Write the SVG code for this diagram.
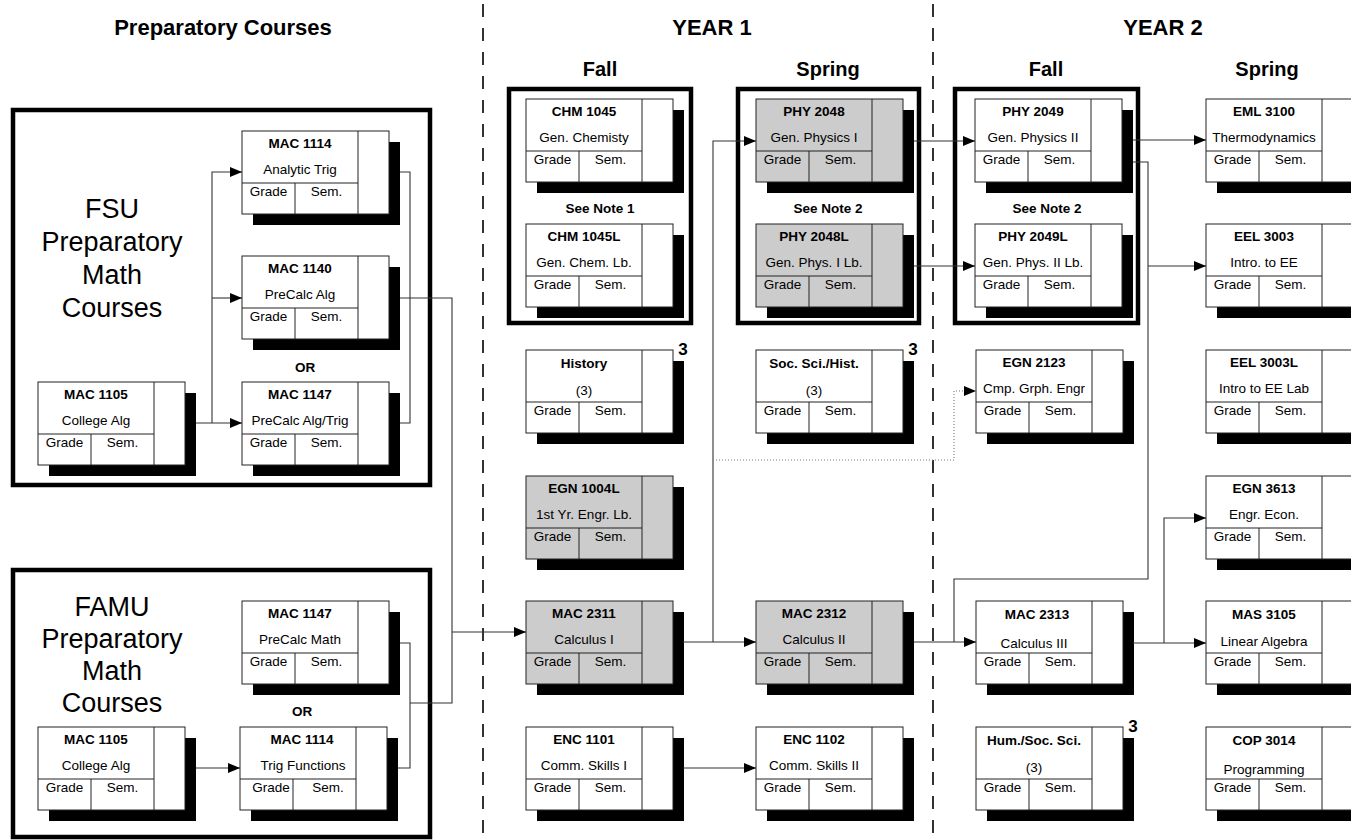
<svg xmlns="http://www.w3.org/2000/svg" width="1351" height="840" viewBox="0 0 1351 840">
<style>
text{font-family:"Liberation Sans",Arial,sans-serif;fill:#000;text-anchor:middle}
.h1{font-size:22px;font-weight:bold}
.h2{font-size:20px;font-weight:bold}
.big{font-size:27px}
.code{font-size:13.5px;font-weight:bold}
.nm{font-size:13.5px}
.gs{font-size:13.5px}
.note{font-size:13.5px;font-weight:bold}
.three{font-size:17px;font-weight:bold}
.sh{fill:#000}
.bx{stroke:#222;stroke-width:1}
.fw{fill:#fff}
.fg{fill:#cccccc}
.ln{stroke:#222;stroke-width:1;fill:none}
.grp{fill:none;stroke:#000;stroke-width:4.5}
.dash{stroke:#000;stroke-width:1.6;stroke-dasharray:13,11;fill:none}
.cn{fill:none;stroke:#333;stroke-width:1.1}
.dot{fill:none;stroke:#777;stroke-width:1.1;stroke-dasharray:1,2}
</style>
<defs>
<marker id="ah" markerWidth="12" markerHeight="10" refX="12" refY="5" orient="auto" markerUnits="userSpaceOnUse"><path d="M0,0 L12,5 L0,10 z" fill="#000"/></marker>
<g id="frame">
<rect class="sh" x="11" y="11" width="147" height="83"/>
<rect class="bx" x="0" y="0" width="147" height="83"/>
<path class="ln" d="M116,0 V83 M0,52 H116 M53,52 V83"/>
</g>
</defs>
<rect width="1351" height="840" fill="#fff"/>

<g id="headers">
<text class="h1" x="223" y="35">Preparatory Courses</text>
<text class="h1" x="712" y="35">YEAR 1</text>
<text class="h1" x="1163" y="35">YEAR 2</text>
<text class="h2" x="600" y="76">Fall</text>
<text class="h2" x="828" y="76">Spring</text>
<text class="h2" x="1046" y="76">Fall</text>
<text class="h2" x="1267" y="76">Spring</text>
</g>

<g id="dividers">
<line class="dash" x1="483" y1="4" x2="483" y2="840"/>
<line class="dash" x1="933" y1="4" x2="933" y2="840"/>
</g>

<g id="group-fsu">
<rect class="grp" x="13" y="110" width="417" height="375"/>
<text class="big" x="112" y="218">FSU</text>
<text class="big" x="112" y="251">Preparatory</text>
<text class="big" x="112" y="284">Math</text>
<text class="big" x="112" y="317">Courses</text>
<text class="note" x="305" y="372">OR</text>
</g>
<g id="group-famu">
<rect class="grp" x="13" y="570" width="417" height="267"/>
<text class="big" x="112" y="616">FAMU</text>
<text class="big" x="112" y="648">Preparatory</text>
<text class="big" x="112" y="680">Math</text>
<text class="big" x="112" y="712">Courses</text>
<text class="note" x="302" y="716">OR</text>
</g>
<g id="group-y1-fall">
<rect class="grp" x="509" y="89" width="182" height="234"/>
<text class="note" x="600" y="213">See Note 1</text>
</g>
<g id="group-y1-spring">
<rect class="grp" x="738" y="89" width="181" height="234"/>
<text class="note" x="828" y="213">See Note 2</text>
</g>
<g id="group-y2-fall">
<rect class="grp" x="955" y="89" width="183" height="234"/>
<text class="note" x="1047" y="213">See Note 2</text>
</g>

<!-- Nodes -->
<g id="fsu-mac1114" transform="translate(242,131)"><use href="#frame" class="fw"/><text class="code" x="58" y="17">MAC 1114</text><text class="nm" x="58" y="43">Analytic Trig</text><text class="gs" x="26.5" y="65">Grade</text><text class="gs" x="84.5" y="65">Sem.</text></g>
<g id="fsu-mac1140" transform="translate(242,256)"><use href="#frame" class="fw"/><text class="code" x="58" y="17">MAC 1140</text><text class="nm" x="58" y="43">PreCalc Alg</text><text class="gs" x="26.5" y="65">Grade</text><text class="gs" x="84.5" y="65">Sem.</text></g>
<g id="fsu-mac1147" transform="translate(242,382)"><use href="#frame" class="fw"/><text class="code" x="58" y="17">MAC 1147</text><text class="nm" x="58" y="43">PreCalc Alg/Trig</text><text class="gs" x="26.5" y="65">Grade</text><text class="gs" x="84.5" y="65">Sem.</text></g>
<g id="fsu-mac1105" transform="translate(38,382)"><use href="#frame" class="fw"/><text class="code" x="58" y="17">MAC 1105</text><text class="nm" x="58" y="43">College Alg</text><text class="gs" x="26.5" y="65">Grade</text><text class="gs" x="84.5" y="65">Sem.</text></g>
<g id="famu-mac1147" transform="translate(242,601)"><use href="#frame" class="fw"/><text class="code" x="58" y="17">MAC 1147</text><text class="nm" x="58" y="43">PreCalc Math</text><text class="gs" x="26.5" y="65">Grade</text><text class="gs" x="84.5" y="65">Sem.</text></g>
<g id="famu-mac1114" transform="translate(240,727)"><use href="#frame" class="fw"/><text class="code" x="62" y="17">MAC 1114</text><text class="nm" x="63" y="43">Trig Functions</text><text class="gs" x="31" y="65">Grade</text><text class="gs" x="88" y="65">Sem.</text></g>
<g id="famu-mac1105" transform="translate(38,727)"><use href="#frame" class="fw"/><text class="code" x="58" y="17">MAC 1105</text><text class="nm" x="58" y="43">College Alg</text><text class="gs" x="26.5" y="65">Grade</text><text class="gs" x="84.5" y="65">Sem.</text></g>

<g id="chm1045" transform="translate(526,99)"><use href="#frame" class="fw"/><text class="code" x="58" y="17">CHM 1045</text><text class="nm" x="58" y="43">Gen. Chemisty</text><text class="gs" x="26.5" y="65">Grade</text><text class="gs" x="84.5" y="65">Sem.</text></g>
<g id="chm1045l" transform="translate(526,224)"><use href="#frame" class="fw"/><text class="code" x="58" y="17">CHM 1045L</text><text class="nm" x="58" y="43">Gen. Chem. Lb.</text><text class="gs" x="26.5" y="65">Grade</text><text class="gs" x="84.5" y="65">Sem.</text></g>
<g id="history" transform="translate(526,350)"><use href="#frame" class="fw"/><text class="code" x="58" y="18">History</text><text class="nm" x="58" y="45">(3)</text><text class="gs" x="26.5" y="65">Grade</text><text class="gs" x="84.5" y="65">Sem.</text><text class="three" x="157" y="5">3</text></g>
<g id="egn1004l" transform="translate(526,476)"><use href="#frame" class="fg"/><text class="code" x="58" y="17">EGN 1004L</text><text class="nm" x="58" y="43">1st Yr. Engr. Lb.</text><text class="gs" x="26.5" y="65">Grade</text><text class="gs" x="84.5" y="65">Sem.</text></g>
<g id="mac2311" transform="translate(526,601)"><use href="#frame" class="fg"/><text class="code" x="58" y="17">MAC 2311</text><text class="nm" x="58" y="43">Calculus I</text><text class="gs" x="26.5" y="65">Grade</text><text class="gs" x="84.5" y="65">Sem.</text></g>
<g id="enc1101" transform="translate(526,727)"><use href="#frame" class="fw"/><text class="code" x="58" y="17">ENC 1101</text><text class="nm" x="58" y="43">Comm. Skills I</text><text class="gs" x="26.5" y="65">Grade</text><text class="gs" x="84.5" y="65">Sem.</text></g>

<g id="phy2048" transform="translate(756,99)"><use href="#frame" class="fg"/><text class="code" x="58" y="17">PHY 2048</text><text class="nm" x="58" y="43">Gen. Physics I</text><text class="gs" x="26.5" y="65">Grade</text><text class="gs" x="84.5" y="65">Sem.</text></g>
<g id="phy2048l" transform="translate(756,224)"><use href="#frame" class="fg"/><text class="code" x="58" y="17">PHY 2048L</text><text class="nm" x="58" y="43">Gen. Phys. I Lb.</text><text class="gs" x="26.5" y="65">Grade</text><text class="gs" x="84.5" y="65">Sem.</text></g>
<g id="socsci-hist" transform="translate(756,350)"><use href="#frame" class="fw"/><text class="code" x="58" y="18">Soc. Sci./Hist.</text><text class="nm" x="58" y="45">(3)</text><text class="gs" x="26.5" y="65">Grade</text><text class="gs" x="84.5" y="65">Sem.</text><text class="three" x="157" y="5">3</text></g>
<g id="mac2312" transform="translate(756,601)"><use href="#frame" class="fg"/><text class="code" x="58" y="17">MAC 2312</text><text class="nm" x="58" y="43">Calculus II</text><text class="gs" x="26.5" y="65">Grade</text><text class="gs" x="84.5" y="65">Sem.</text></g>
<g id="enc1102" transform="translate(756,727)"><use href="#frame" class="fw"/><text class="code" x="58" y="17">ENC 1102</text><text class="nm" x="58" y="43">Comm. Skills II</text><text class="gs" x="26.5" y="65">Grade</text><text class="gs" x="84.5" y="65">Sem.</text></g>

<g id="phy2049" transform="translate(975,99)"><use href="#frame" class="fw"/><text class="code" x="58" y="17">PHY 2049</text><text class="nm" x="58" y="43">Gen. Physics II</text><text class="gs" x="26.5" y="65">Grade</text><text class="gs" x="84.5" y="65">Sem.</text></g>
<g id="phy2049l" transform="translate(975,224)"><use href="#frame" class="fw"/><text class="code" x="58" y="17">PHY 2049L</text><text class="nm" x="58" y="43">Gen. Phys. II Lb.</text><text class="gs" x="26.5" y="65">Grade</text><text class="gs" x="84.5" y="65">Sem.</text></g>
<g id="egn2123" transform="translate(976,350)"><use href="#frame" class="fw"/><text class="code" x="58" y="17">EGN 2123</text><text class="nm" x="58" y="43">Cmp. Grph. Engr</text><text class="gs" x="26.5" y="65">Grade</text><text class="gs" x="84.5" y="65">Sem.</text></g>
<g id="mac2313" transform="translate(976,601)"><use href="#frame" class="fw"/><text class="code" x="61" y="18">MAC 2313</text><text class="nm" x="58" y="47">Calculus III</text><text class="gs" x="26.5" y="65">Grade</text><text class="gs" x="84.5" y="65">Sem.</text></g>
<g id="hum-socsci" transform="translate(976,727)"><use href="#frame" class="fw"/><text class="code" x="58" y="18">Hum./Soc. Sci.</text><text class="nm" x="58" y="45">(3)</text><text class="gs" x="26.5" y="65">Grade</text><text class="gs" x="84.5" y="65">Sem.</text><text class="three" x="157" y="5">3</text></g>

<g id="eml3100" transform="translate(1206,99)"><use href="#frame" class="fw"/><text class="code" x="58" y="17">EML 3100</text><text class="nm" x="58" y="43">Thermodynamics</text><text class="gs" x="26.5" y="65">Grade</text><text class="gs" x="84.5" y="65">Sem.</text></g>
<g id="eel3003" transform="translate(1206,224)"><use href="#frame" class="fw"/><text class="code" x="58" y="17">EEL 3003</text><text class="nm" x="58" y="43">Intro. to EE</text><text class="gs" x="26.5" y="65">Grade</text><text class="gs" x="84.5" y="65">Sem.</text></g>
<g id="eel3003l" transform="translate(1206,350)"><use href="#frame" class="fw"/><text class="code" x="58" y="17">EEL 3003L</text><text class="nm" x="58" y="43">Intro to EE Lab</text><text class="gs" x="26.5" y="65">Grade</text><text class="gs" x="84.5" y="65">Sem.</text></g>
<g id="egn3613" transform="translate(1206,476)"><use href="#frame" class="fw"/><text class="code" x="58" y="17">EGN 3613</text><text class="nm" x="58" y="43">Engr. Econ.</text><text class="gs" x="26.5" y="65">Grade</text><text class="gs" x="84.5" y="65">Sem.</text></g>
<g id="mas3105" transform="translate(1206,601)"><use href="#frame" class="fw"/><text class="code" x="58" y="18">MAS 3105</text><text class="nm" x="58" y="45">Linear Algebra</text><text class="gs" x="26.5" y="65">Grade</text><text class="gs" x="84.5" y="65">Sem.</text></g>
<g id="cop3014" transform="translate(1206,727)"><use href="#frame" class="fw"/><text class="code" x="58" y="18">COP 3014</text><text class="nm" x="58" y="47">Programming</text><text class="gs" x="26.5" y="65">Grade</text><text class="gs" x="84.5" y="65">Sem.</text></g>

<g id="connectors">
<path class="cn" d="M196,423 H242" marker-end="url(#ah)"/>
<path class="cn" d="M212,423 V172 H242" marker-end="url(#ah)"/>
<path class="cn" d="M212,298 H242" marker-end="url(#ah)"/>
<path class="cn" d="M400,172 H410 V423 H400"/>
<path class="cn" d="M400,298 H452 V703 H410"/>
<path class="cn" d="M452,632 H526" marker-end="url(#ah)"/>
<path class="cn" d="M196,768 H240" marker-end="url(#ah)"/>
<path class="cn" d="M400,643 H410 V768 H398"/>
<path class="cn" d="M683,642 H756" marker-end="url(#ah)"/>
<path class="cn" d="M713,642 V141 H756" marker-end="url(#ah)"/>
<path class="dot" d="M713,460 H954 V391 H964"/>
<path class="cn" d="M964,391 H976" marker-end="url(#ah)" stroke-opacity="0"/>
<path class="cn" d="M683,768 H756" marker-end="url(#ah)"/>
<path class="cn" d="M914,141 H975" marker-end="url(#ah)"/>
<path class="cn" d="M914,266 H975" marker-end="url(#ah)"/>
<path class="cn" d="M914,642 H976" marker-end="url(#ah)"/>
<path class="cn" d="M1133,140 H1206" marker-end="url(#ah)"/>
<path class="cn" d="M1133,162 H1148 V579 H954 V642"/>
<path class="cn" d="M1148,266 H1206" marker-end="url(#ah)"/>
<path class="cn" d="M1133,643 H1206" marker-end="url(#ah)"/>
<path class="cn" d="M1164,643 V518 H1206" marker-end="url(#ah)"/>
</g>
</svg>
